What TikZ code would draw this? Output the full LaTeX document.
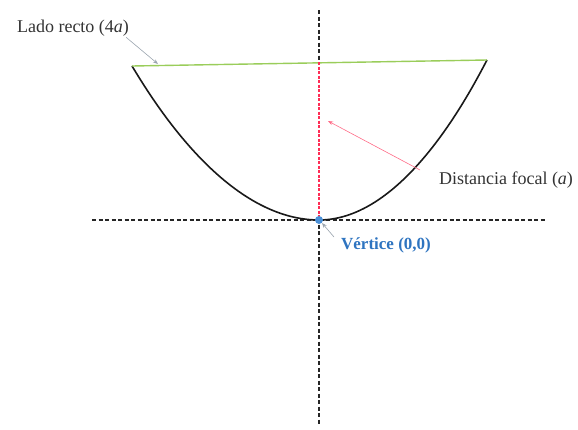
\documentclass[tikz,border=0pt]{standalone}
\usepackage{fontspec}
\setmainfont{Liberation Serif}
\usepackage{xcolor}
\usetikzlibrary{arrows.meta,positioning}
\definecolor{parabgreen}{HTML}{9ACD5A}
\definecolor{parabred}{HTML}{FF2D55}
\definecolor{parabblue}{HTML}{4A8FD6}
\definecolor{parabtext}{HTML}{2E74C0}
\definecolor{parabgrey}{HTML}{9AA4AE}

\begin{document}
\begin{tikzpicture}[
    x=1pt, y=-1pt,
    axis/.style={draw=black!85, line width=1.6pt, dash pattern=on 4pt off 2.5pt},
    curve/.style={draw=black!90, line width=1.6pt},
    focal/.style={draw=parabred, line width=1.6pt, dash pattern=on 3pt off 1.5pt},
    recto/.style={draw=parabgreen, line width=1.4pt},
    lbl/.style={font=\fontsize{18}{20}\selectfont, text=black!80, inner sep=1pt},
    ptr/.style={-{Stealth[length=1.8mm]}, line width=0.6pt}
]
    \useasboundingbox (0,0) rectangle (578,429);

    % Points
    \coordinate (ytop) at (319,10);
    \coordinate (ybot) at (319,425);
    \coordinate (xleft) at (92,220);
    \coordinate (xright) at (545,220);
    \coordinate (lend) at (132,66);
    \coordinate (rend) at (487,60);
    \coordinate (vtx) at (319,220);
    \coordinate (ftop) at (319,62);

    % Axes
    \draw [axis] (ytop) -- (ybot);
    \draw [axis] (xleft) -- (xright);

    % Parabola, latus rectum and focal distance
    \draw [curve] (lend) parabola bend (vtx) (rend);
    \draw [recto] (lend) -- (rend);
    \draw [white, line width=2.6pt] (ftop) -- (vtx);
    \draw [focal] (ftop) -- (vtx);
    \node (vdot) [circle, fill=parabblue, minimum size=8pt, inner sep=0pt] at (vtx) {};

    % Labels
    \node (lrlabel) [lbl] at (73,28) {Lado recto (4\textit{a})};
    \node (fdlabel) [lbl] at (506,180) {Distancia focal (\textit{a})};
    \node (vlabel) [lbl, font=\fontsize{17}{19}\selectfont\bfseries, text=parabtext] at (386,245) {Vértice (0,0)};

    % Pointers
    \coordinate (lrtip) at (158,64);
    \coordinate (fdtail) at (420,170);
    \coordinate (fdtip) at (328,121);
    \coordinate (vtail) at (334,237);
    \draw [ptr, draw=parabgrey] (lrlabel.south east) ++(-4,0) -- (lrtip);
    \draw [ptr, draw=parabred!70] (fdtail) -- (fdtip);
    \draw [ptr, draw=parabgrey] (vtail) -- (vdot.south east);
\end{tikzpicture}
\end{document}
